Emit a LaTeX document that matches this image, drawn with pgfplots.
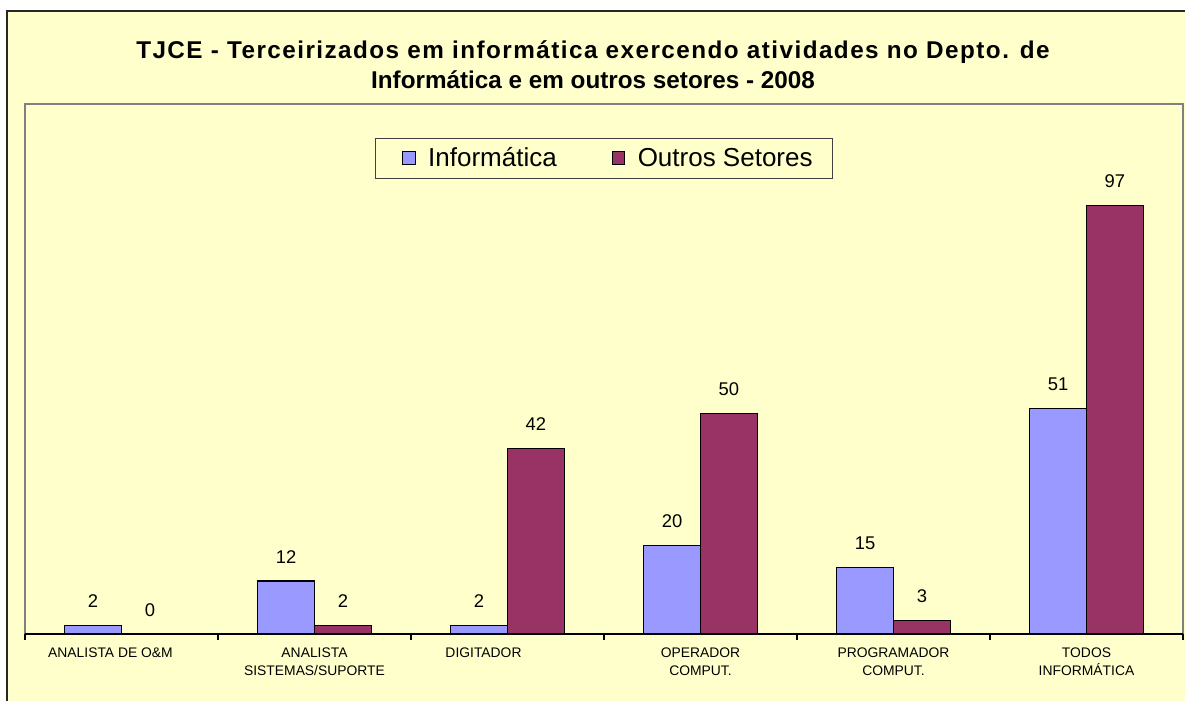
\documentclass[border=0pt]{standalone}
\usepackage{fontspec}
\setmainfont{Liberation Sans}
\usepackage{pgfplots}
\pgfplotsset{compat=1.18}
\definecolor{bg}{HTML}{FFFFCC}
\definecolor{inf}{HTML}{9999FF}
\definecolor{outc}{HTML}{993366}
\begin{document}
\begin{tikzpicture}[x=0.75pt,y=-0.75pt]
\useasboundingbox (0,0) rectangle (1185,700);
\fill[bg] (7,11) rectangle (1200,715);
\draw[line width=1.3pt, black!85] (7,11) rectangle (1200,715);
\node[anchor=base, font=\bfseries\fontsize{18.2}{21}\selectfont\addfontfeatures{LetterSpace=6}] at (593,58) {TJCE - Terceirizados em informática exercendo atividades no Depto. de};
\node[anchor=base, font=\bfseries\fontsize{18.2}{21}\selectfont] at (593,88) {Informática e em outros setores - 2008};
\begin{axis}[
  at={(18.75pt,-475.5pt)}, anchor=south west,
  scale only axis, width=868.5pt, height=397.5pt,
  xmin=-0.5, xmax=5.5, ymin=0, ymax=120,
  axis x line=bottom, axis y line=none,
  x axis line style={-, black, line width=0.8pt},
  axis background/.style={fill=bg, draw=gray, line width=1pt},
  xtick={0,1,2,3,4,5},
  major tick length=0pt,
  xticklabels={{ANALISTA DE O\&M\hspace*{16.5pt}}, {ANALISTA\\SISTEMAS/SUPORTE}, {DIGITADOR\hspace*{36pt}}, {OPERADOR\\COMPUT.}, {PROGRAMADOR\\COMPUT.}, {TODOS\\INFORMÁTICA}},
  xticklabel style={align=center, font=\fontsize{10.4}{13.5}\selectfont, anchor=north, inner sep=0pt, yshift=-10.5pt},
  extra x ticks={-0.5,0.5,1.5,2.5,3.5,4.5,5.5},
  extra x tick labels={},
  extra x tick style={major tick length=4.5pt, tick align=outside, tick style={black, line width=0.8pt}},
  ytick=\empty,
  ybar, bar width=0.295,
  nodes near coords,
  /pgf/number format/assume math mode=true,
  every node near coord/.append style={text=black, font=\fontsize{13.8}{15}\selectfont, anchor=base, yshift=13.5pt},
  legend columns=2,
  legend style={at={(0.4996,0.898)}, anchor=center, draw=black!75, fill=bg, line width=0.6pt,
    inner xsep=12.5pt, inner ysep=5pt,
    font=\fontsize{19.5}{22}\selectfont,
    /tikz/every odd column/.append style={column sep=7.5pt},
    /tikz/every even column/.append style={column sep=31.5pt}},
  legend image code/.code={\path (-7.5pt,0pt); \draw[#1, draw=black, line width=0.6pt] (0pt,-4.5pt) rectangle (9.5pt,5pt);},
]
\addplot[fill=inf, draw=black, line width=0.9pt, bar shift=-0.1475] coordinates {(0,2) (1,12) (2,2) (3,20) (4,15) (5,51)};
\addplot[fill=outc, draw=black, line width=0.9pt, bar shift=0.1475] coordinates {(0,0) (1,2) (2,42) (3,50) (4,3) (5,97)};
\legend{Informática, Outros Setores}
\end{axis}
\end{tikzpicture}
\end{document}
